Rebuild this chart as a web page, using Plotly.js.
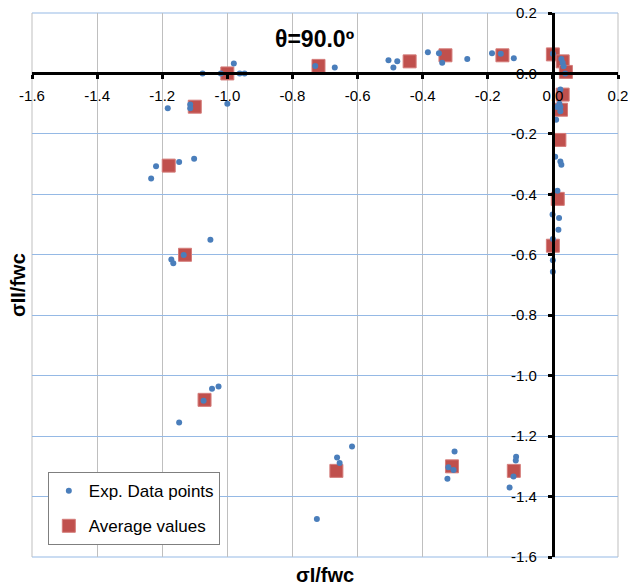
<!DOCTYPE html>
<html>
<head>
<meta charset="utf-8">
<script src="https://cdn.plot.ly/plotly-3.0.1.min.js"></script>
<style>html,body{margin:0;padding:0;background:#fff}#chart{width:628px;height:587px}</style>
</head>
<body>
<div id="chart"></div>
<script>
// Experimental data points
const expX = [-1.076,-1.02,-0.98,-0.962,-0.947,-1.0,-1.183,-1.114,-1.114,
  -0.73,-0.67,-0.505,-0.478,-0.49,-0.384,-0.35,-0.34,-0.263,-0.187,-0.16,-0.12,
  0.0,0.026,0.03,0.033,0.038,0.023,0.013,0.023,0.023,0.01,0.02,
  0.007,0.023,0.026,0.014,-0.001,0.019,0.017,0.0,0.0,0.0,
  -1.219,-1.234,-1.148,-1.102,-1.052,-1.134,-1.172,-1.166,
  -1.073,-1.047,-1.027,-1.148,
  -0.725,-0.663,-0.655,-0.617,
  -0.302,-0.321,-0.305,-0.324,
  -0.113,-0.114,-0.121,-0.133];
const expY = [0.0,0.0,0.033,0.0,0.0,-0.10,-0.115,-0.103,-0.115,
  0.025,0.02,0.044,0.04,0.02,0.07,0.067,0.035,0.048,0.067,0.065,0.05,
  0.065,0.048,0.035,0.024,0.0,-0.053,-0.111,-0.111,-0.125,-0.153,-0.10,
  -0.276,-0.291,-0.302,-0.388,-0.467,-0.478,-0.517,-0.548,-0.618,-0.656,
  -0.307,-0.348,-0.293,-0.282,-0.55,-0.601,-0.616,-0.628,
  -1.083,-1.043,-1.036,-1.155,
  -1.474,-1.271,-1.289,-1.234,
  -1.251,-1.303,-1.312,-1.341,
  -1.268,-1.281,-1.334,-1.370];
// Average values
const avgX = [-1.0,-1.10,-0.72,-0.44,-0.33,-0.155,0.0,0.03,0.04,0.03,0.025,0.02,0.015,0.0,
  -1.18,-1.13,-1.07,-0.665,-0.31,-0.12];
const avgY = [0.0,-0.11,0.025,0.04,0.06,0.06,0.063,0.04,0.005,-0.07,-0.12,-0.22,-0.415,-0.57,
  -0.305,-0.60,-1.08,-1.315,-1.30,-1.315];
// Tick labels
const xTickVals = [-1.6,-1.4,-1.2,-1.0,-0.8,-0.6,-0.4,-0.2,0.0,0.2];
const xTickText = ["-1.6","-1.4","-1.2","-1.0","-0.8","-0.6","-0.4","-0.2","0.0","0.2"];
const yTickVals = [0.2,0.0,-0.2,-0.4,-0.6,-0.8,-1.0,-1.2,-1.4,-1.6];
const yTickText = ["0.2","0.0","-0.2","-0.4","-0.6","-0.8","-1.0","-1.2","-1.4","-1.6"];

const FONT = "Liberation Sans, Arial, sans-serif";
const GRID_X = '#BFBFBF', GRID_Y = '#95B9E5';
const traces = [
  {x: avgX, y: avgY, type: 'scatter', mode: 'markers', name: 'Average values',
   legendrank: 2, legendgroup: 'b',
   marker: {symbol: 'square', size: 13, color: '#C0504D', line: {color: '#D47C7A', width: 1}}},
  {x: expX, y: expY, type: 'scatter', mode: 'markers', name: 'Exp. Data points',
   legendrank: 1, legendgroup: 'a',
   marker: {symbol: 'circle', size: 6, color: '#4A7EBB'}}
];
const edge = (x0, y0, x1, y1, c) => ({type: 'line', xref: 'paper', yref: 'paper', layer: 'below',
  x0: x0, y0: y0, x1: x1, y1: y1, line: {color: c, width: 1}});
const layout = {
  width: 628, height: 587,
  margin: {l: 32, r: 10, t: 13, b: 30, pad: 0},
  paper_bgcolor: '#fff', plot_bgcolor: '#fff',
  font: {family: FONT, size: 15, color: '#000'},
  showlegend: true,
  legend: {x: 0.027, y: 0.156, xanchor: 'left', yanchor: 'top',
    bgcolor: '#fff', bordercolor: '#7f7f7f', borderwidth: 1,
    font: {family: FONT, size: 17, color: '#000'},
    traceorder: 'grouped', tracegroupgap: 10},
  xaxis: {range: [-1.6, 0.2], tickvals: xTickVals, ticktext: xTickText,
    anchor: 'free', position: 0.8889,
    showline: true, linecolor: '#000', linewidth: 3,
    ticks: 'outside', ticklen: 4, tickwidth: 3, tickcolor: '#000',
    ticklabelstandoff: 4, ticklabeloverflow: 'allow',
    showgrid: true, gridcolor: GRID_X, gridwidth: 1, zeroline: false,
    tickfont: {family: FONT, size: 15, color: '#000'}},
  yaxis: {range: [-1.6, 0.2], tickvals: yTickVals, ticktext: yTickText,
    anchor: 'free', position: 0.8889,
    showline: true, linecolor: '#000', linewidth: 3,
    ticks: 'outside', ticklen: 4, tickwidth: 3, tickcolor: '#000',
    ticklabelstandoff: 8, ticklabeloverflow: 'allow',
    showgrid: true, gridcolor: GRID_Y, gridwidth: 1, zeroline: false,
    tickfont: {family: FONT, size: 15, color: '#000'}},
  shapes: [
    edge(0, 1, 1, 1, GRID_Y), edge(0, 0, 1, 0, GRID_Y),
    edge(0, 0, 0, 1, GRID_X), edge(1, 0, 1, 1, GRID_X)
  ],
  annotations: [
    {text: '<b>θ=90.0º</b>', xref: 'paper', yref: 'paper', x: 0.482, y: 0.953,
     xanchor: 'center', yanchor: 'middle', showarrow: false,
     font: {family: FONT, size: 23, color: '#000'}},
    {text: '<b>σI/fwc</b>', xref: 'paper', yref: 'paper', x: 0.5, y: -0.033,
     xanchor: 'center', yanchor: 'middle', showarrow: false,
     font: {family: FONT, size: 20, color: '#000'}},
    {text: '<b>σII/fwc</b>', xref: 'paper', yref: 'paper', x: -0.024, y: 0.5,
     xanchor: 'center', yanchor: 'middle', showarrow: false, textangle: -90,
     font: {family: FONT, size: 20, color: '#000'}}
  ]
};
Plotly.newPlot('chart', traces, layout, {displayModeBar: false, staticPlot: true});
</script>
</body>
</html>
